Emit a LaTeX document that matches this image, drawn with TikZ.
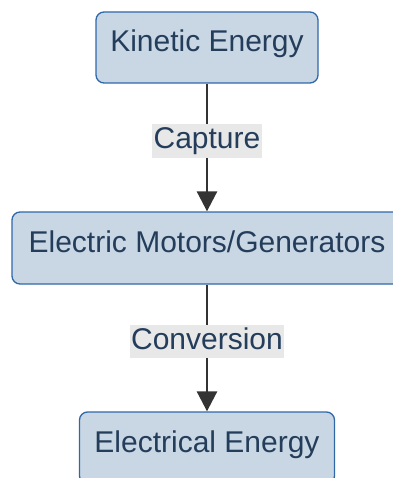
\documentclass[tikz,border=0pt]{standalone}
\usepackage{fontspec}
\setmainfont{Liberation Sans}
\usetikzlibrary{arrows.meta}
\definecolor{boxfill}{HTML}{C9D7E5}
\definecolor{boxline}{HTML}{2F68A8}
\definecolor{boxtext}{HTML}{243D5A}
\definecolor{labelfill}{HTML}{E8E8E8}
\definecolor{edgecol}{HTML}{333333}
\tikzset{
  stagebox/.style={draw=boxline, line width=1.3pt, fill=boxfill, rounded corners=8pt,
    text=boxtext, font=\fontsize{30}{36}\selectfont, minimum height=72pt,
    text height=21pt, text depth=13pt, inner xsep=0pt},
  edgelabel/.style={fill=labelfill, text=boxtext, font=\fontsize{30}{36}\selectfont,
    inner xsep=1.5pt, inner ysep=2.4pt, text height=22pt, text depth=6.5pt},
  flow/.style={draw=edgecol, line width=2.8pt,
    -{Triangle[width=20pt,length=20pt]}, shorten >=0pt}
}
\begin{document}
\begin{tikzpicture}[x=1pt, y=-1pt]
  \useasboundingbox (0,0) rectangle (392,478);
  \node[stagebox, minimum width=222pt, minimum height=71pt] (kin) at (207,47.5) {Kinetic Energy};
  \node[stagebox, minimum width=390pt] (gen) at (207,248) {Electric Motors/Generators};
  \node[stagebox, minimum width=255pt] (ele) at (207,448) {Electrical Energy};
  \draw[flow] (kin.south) -- node[edgelabel, pos=0.45] (cap) {Capture} (gen.north);
  \draw[flow] (gen.south) -- node[edgelabel, pos=0.45] (conv) {Conversion} (ele.north);
\end{tikzpicture}
\end{document}
